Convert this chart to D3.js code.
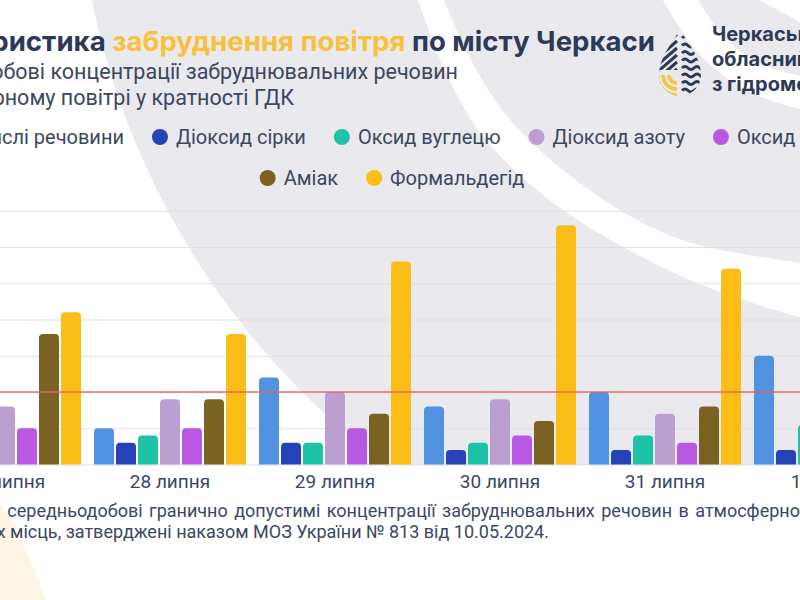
<!DOCTYPE html>
<html><head><meta charset="utf-8">
<script src="https://cdn.jsdelivr.net/npm/d3@7"></script>
<style>
body{margin:0;background:#fff}
svg{display:block}
</style></head>
<body>
<svg id="c" width="800" height="600"></svg>
<script>
// ---- data ----
const dates = ["27 липня","28 липня","29 липня","30 липня","31 липня","1 серпня"];
const seriesNames = ["Завислі речовини","Діоксид сірки","Оксид вуглецю","Діоксид азоту","Оксид азоту","Аміак","Формальдегід"];
const seriesColors = ["#5192e2","#2642b9","#1dc3a6","#bb9fd1","#b958e2","#7a6322","#fbbd18"];
// values in multiples of ГДК (null = outside the visible crop)
const dust = [null,0.5,1.2,0.8,1.0,1.5];
const so2  = [null,0.3,0.3,0.2,0.2,0.2];
const co   = [null,0.4,0.3,0.3,0.4,0.55];
const no2  = [0.8,0.9,1.0,0.9,0.7,null];
const no   = [0.5,0.5,0.5,0.4,0.3,null];
const nh3  = [1.8,0.9,0.7,0.6,0.8,null];
const hcho = [2.1,1.8,2.8,3.3,2.7,null];
const seriesValues = [dust,so2,co,no2,no,nh3,hcho];
const yTicks = [0,0.5,1,1.5,2,2.5,3,3.5];
const limitValue = 1;
const titleParts = [["Характеристика ","#2c3a57"],["забруднення повітря","#f6c23c"],[" по місту Черкаси","#2c3a57"]];
const subtitleLines = ["Середньодобові концентрації забруднювальних речовин","в атмосферному повітрі у кратності ГДК"];
const logoLines = ["Черкаський","обласний центр","з гідрометеорології"];
const footnotePrefix = "*ГДК – ";
const footnoteLines = ["середньодобові гранично допустимі концентрації забруднювальних речовин в атмосферному повітрі","населених місць, затверджені наказом МОЗ України № 813 від 10.05.2024."];

const svg = d3.select("#c");
const W = 800, H = 600;
const navy = "#2c3a57", txt = "#3b4761", grey = "#eaeaee";

// ---- background decoration ----
svg.append("rect").attr("width",W).attr("height",H).attr("fill","#fff");
svg.append("circle").attr("cx",851).attr("cy",-155).attr("r",775).attr("fill",grey);
const curve = d3.line().curve(d3.curveCatmullRom);
function band(inner, outer){
  return curve(inner) + "L" + curve(outer.slice().reverse()).slice(1) + "Z";
}
svg.append("path").attr("fill","#fff").attr("d", band(
  [[416,-5],[445,70],[482,135],[552,202],[640,256],[720,292],[810,320]],
  [[442,-5],[472,62],[512,122],[592,192],[682,240],[810,264]]));
svg.append("path").attr("fill","#fff").attr("d", band(
  [[660,-5],[700,55],[750,92],[810,112]],
  [[695,-5],[727,40],[767,66],[810,78]]));
svg.append("path").attr("fill","#fff").attr("d","M760,0L800,0L800,22Z");
svg.append("rect").attr("x",0).attr("y",465).attr("width",W).attr("height",H-465).attr("fill","#fff");
svg.append("path").attr("fill","#fdf6e6").attr("d", curve([[0,505],[12,520],[28,555],[46,600]]) + "L0,600Z");

// ---- scales ----
const x0 = d3.scaleBand().domain(dates).range([-71, 906]).paddingInner(13/165).paddingOuter(0);
const x1 = d3.scaleBand().domain(seriesNames).range([0, x0.bandwidth()]).paddingInner(2/22).paddingOuter(0);
const y = d3.scaleLinear().domain([0, 3.5]).range([464.5, 210.75]);

// gridlines
const gAxis = svg.append("g").attr("transform","translate(-10,0)")
  .call(d3.axisLeft(y).tickValues(yTicks).tickSize(-830).tickFormat(""));
gAxis.select(".domain").remove();
gAxis.selectAll(".tick line").attr("stroke","#dedfe4").attr("stroke-width",1);

// bars
function topRounded(x, yTop, w, yBase, r){
  const h = yBase - yTop; r = Math.min(r, h, w/2);
  return `M${x},${yBase}V${yTop+r}Q${x},${yTop} ${x+r},${yTop}H${x+w-r}Q${x+w},${yTop} ${x+w},${yTop+r}V${yBase}Z`;
}
const barData = [];
dates.forEach((d,i)=>seriesNames.forEach((s,j)=>{
  const v = seriesValues[j][i];
  if (v !== null) barData.push({d, s, v, c: seriesColors[j]});
}));
svg.append("g").selectAll("path").data(barData).join("path")
  .attr("fill", b=>b.c)
  .attr("d", b=>topRounded(x0(b.d)+x1(b.s), y(b.v), x1.bandwidth(), y(0), 4));

// limit line
svg.append("line").attr("x1",0).attr("x2",W).attr("y1",y(limitValue)).attr("y2",y(limitValue))
  .attr("stroke","#e8625c").attr("stroke-width",1.5).attr("opacity",0.9);

// x labels
svg.append("g").selectAll("text").data(dates).join("text")
  .attr("x", d=>x0(d)+x0.bandwidth()/2).attr("y",488)
  .attr("text-anchor","middle").attr("font-family","Roboto, sans-serif").attr("font-size",19)
  .attr("fill",txt).text(d=>d);

// ---- title ----
const t = svg.append("text").attr("x",655).attr("y",51).attr("text-anchor","end")
  .attr("font-family","Inter, Roboto, sans-serif").attr("font-weight",700).attr("font-size",27.6);
titleParts.forEach(p=>t.append("tspan").attr("fill",p[1]).text(p[0]));

svg.append("text").attr("x",458).attr("y",79).attr("text-anchor","end")
  .attr("font-family","Roboto, sans-serif").attr("font-size",21.5).attr("fill",txt).text(subtitleLines[0]);
svg.append("text").attr("x",294).attr("y",105).attr("text-anchor","end")
  .attr("font-family","Roboto, sans-serif").attr("font-size",21.5).attr("fill",txt).text(subtitleLines[1]);

// ---- legend ----
const rows = [seriesNames.slice(0,5), seriesNames.slice(5)];
const rowY = [137, 178];
const legendCenter = 392;
rows.forEach((row, ri)=>{
  const g = svg.append("g");
  const items = row.map(name=>{
    const it = g.append("g");
    it.append("circle").attr("r",8).attr("fill",seriesColors[seriesNames.indexOf(name)]);
    const tx = it.append("text").attr("x",16).attr("dy","0.35em")
      .attr("font-family","Roboto, sans-serif").attr("font-size",20).attr("fill",txt).text(name);
    return {it, w: tx.node().getComputedTextLength()};
  });
  const gap = 36;
  const total = 8 + d3.sum(items, d=>16+d.w) + gap*(items.length-1);
  let cx = legendCenter - total/2 + 8;
  items.forEach(d=>{
    d.it.attr("transform",`translate(${cx},${rowY[ri]})`);
    cx += 16 + d.w + gap;
  });
});

// ---- footnote ----
const fn = svg.append("g").attr("font-family","Roboto, sans-serif").attr("font-size",18).attr("fill",txt);
const fn1 = fn.append("text").attr("x",0).attr("y",516.5).attr("word-spacing",2).attr("xml:space","preserve");
fn1.text(footnotePrefix + footnoteLines[0]);
const startX = fn1.node().getStartPositionOfChar(footnotePrefix.length).x;
fn1.attr("x", 7.3 - startX);
fn.append("text").attr("x",549).attr("y",538).attr("text-anchor","end").text(footnoteLines[1]);

// ---- logo ----
const logo = svg.append("g");
const dropD = "M680,30C689,44 701,58 701,75A21,21 0 0 1 659,75C659,58 671,44 680,30Z";
svg.append("defs").append("clipPath").attr("id","drop").append("path").attr("d",dropD);
const lg = logo.append("g").attr("clip-path","url(#drop)");
for (let k=0;k<8;k++){
  const yy = 38 + k*7.5;
  lg.append("path").attr("fill","none").attr("stroke",navy).attr("stroke-width",3)
    .attr("d",`M682,${yy}q3,-3 6,0t6,0t6,0t6,0`);
}
for (let k=0;k<8;k++){
  const yy = 38 + k*7;
  lg.append("line").attr("x1",677).attr("y1",yy-4).attr("x2",656).attr("y2",yy+14)
    .attr("stroke",navy).attr("stroke-width",3);
}
lg.append("rect").attr("x",655).attr("y",70).attr("width",25).attr("height",30).attr("fill",grey);
[8,14,20].forEach(r=>lg.append("path").attr("fill","none").attr("stroke","#f6c23c").attr("stroke-width",3.5)
  .attr("d",`M${677-r},75A${r},${r} 0 0 0 677,${75+r}`));
logoLines.forEach((l,i)=>logo.append("text").attr("x",712).attr("y",41+i*25)
  .attr("font-family","Inter, Roboto, sans-serif").attr("font-weight",700).attr("font-size",20)
  .attr("fill",navy).text(l));
</script>
</body></html>
